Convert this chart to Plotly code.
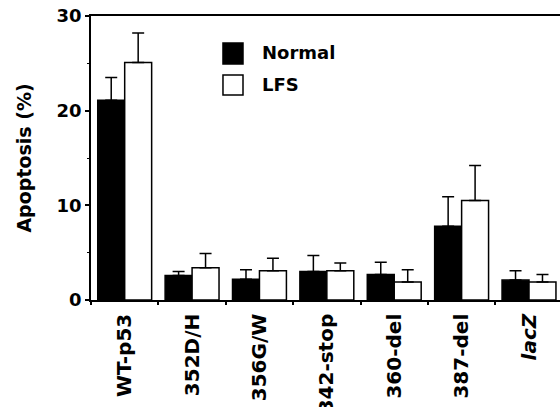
import plotly.graph_objects as go

categories = ["WT-p53", "352D/H", "356G/W", "342-stop", "360-del", "387-del", "<i>lacZ</i>"]
normal_vals = [21.1, 2.6, 2.2, 3.0, 2.7, 7.8, 2.1]
normal_err_top = [23.5, 3.0, 3.2, 4.7, 4.0, 10.9, 3.1]
lfs_vals = [25.1, 3.4, 3.1, 3.1, 1.9, 10.5, 1.9]
lfs_err_top = [28.2, 4.9, 4.4, 3.9, 3.2, 14.2, 2.7]
y_ticks = [0, 10, 20, 30]

FONT = "DejaVu Sans"

def up_err(vals, tops):
    return [t - v for v, t in zip(vals, tops)]

fig = go.Figure()
fig.add_trace(go.Bar(
    x=categories, y=normal_vals, name="Normal", showlegend=False,
    marker=dict(color="black", line=dict(color="black", width=1.5)),
    error_y=dict(type="data", symmetric=False, array=up_err(normal_vals, normal_err_top),
                 arrayminus=[0] * len(normal_vals), color="black", thickness=1.5, width=6),
))
fig.add_trace(go.Bar(
    x=categories, y=lfs_vals, name="LFS", showlegend=False,
    marker=dict(color="white", line=dict(color="black", width=1.5)),
    error_y=dict(type="data", symmetric=False, array=up_err(lfs_vals, lfs_err_top),
                 arrayminus=[0] * len(lfs_vals), color="black", thickness=1.5, width=6),
))

# manual legend
legend_items = [("Normal", "black", 0.831, 0.905, 0.873), ("LFS", "white", 0.722, 0.792, 0.760)]
for label, fill, y0, y1, yt in legend_items:
    fig.add_shape(type="rect", xref="paper", yref="paper", x0=0.2814, x1=0.3241, y0=y0, y1=y1,
                  fillcolor=fill, line=dict(color="black", width=1.5))
    fig.add_annotation(xref="paper", yref="paper", x=0.3603, y=yt, text=label, showarrow=False,
                       xanchor="left", yanchor="middle",
                       font=dict(family=FONT, size=18, color="black", weight="bold"))

fig.update_layout(
    width=560, height=407,
    margin=dict(l=91, r=0, t=16, b=107),
    paper_bgcolor="white", plot_bgcolor="white",
    barmode="group", bargap=0.2, bargroupgap=0,
    font=dict(family=FONT, size=18, color="black", weight="bold"),
    xaxis=dict(
        range=[-0.5, 6.46], tickangle=-90, showline=True, linecolor="black", linewidth=1.5,
        mirror=True, ticks="outside", ticklen=3, tickwidth=1.5, tickcolor="black",
        tickson="boundaries", showgrid=False, zeroline=False, automargin=False,
        ticklabelstandoff=4,
        tickfont=dict(family=FONT, size=20, color="black", weight="bold"),
    ),
    yaxis=dict(
        range=[0, 30], tickvals=y_ticks, ticktext=[str(v) for v in y_ticks],
        showline=True, linecolor="black", linewidth=1.5, mirror=True,
        ticks="outside", ticklen=4, tickwidth=1.5, tickcolor="black",
        minor=dict(tickvals=[5, 15, 25], ticks="outside", ticklen=2, tickwidth=1, tickcolor="black"),
        showgrid=False, zeroline=False, automargin=False,
        tickfont=dict(family=FONT, size=18, color="black", weight="bold"),
        title=dict(text="Apoptosis (%)", standoff=20,
                   font=dict(family=FONT, size=19, color="black", weight="bold")),
    ),
)

fig.write_html("out.html")
